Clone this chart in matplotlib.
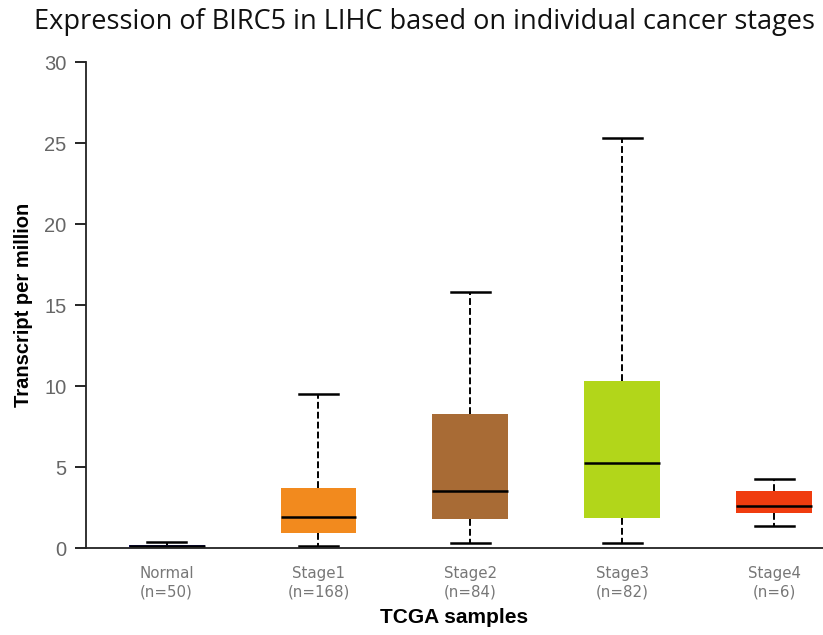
import matplotlib
matplotlib.use('Agg')
import matplotlib.pyplot as plt

# datos (TPM)
groups = ['Normal', 'Stage1', 'Stage2', 'Stage3', 'Stage4']
counts = [50, 168, 84, 82, 6]
whislo = [0.0, 0.1, 0.3, 0.3, 1.35]
q1 = [0.05, 0.95, 1.8, 1.85, 2.15]
med = [0.1, 1.9, 3.5, 5.25, 2.6]
q3 = [0.2, 3.7, 8.27, 10.3, 3.55]
whishi = [0.35, 9.5, 15.8, 25.3, 4.25]
colors = ['#1c1c8c', '#f28a1e', '#a86b35', '#b2d61a', '#f03c0f']

stats = []
for i, g in enumerate(groups):
    stats.append(dict(label=g, whislo=whislo[i], q1=q1[i], med=med[i],
                      q3=q3[i], whishi=whishi[i], fliers=[]))

fig = plt.figure(figsize=(8.23, 6.35), dpi=100)
ax = fig.add_axes([0.1045, 0.137, 0.8955, 0.765])

bp = ax.bxp(stats, positions=range(len(groups)), widths=0.5, patch_artist=True,
            showfliers=False,
            whiskerprops=dict(color='black', linestyle=(0, (3.5, 1.6)), linewidth=1.4),
            capprops=dict(color='black', linewidth=1.8),
            medianprops=dict(color='black', linewidth=1.8),
            boxprops=dict(linewidth=0))
for patch, c in zip(bp['boxes'], colors):
    patch.set_facecolor(c)
    patch.set_edgecolor(c)

for cap in bp['caps']:
    x = cap.get_xdata()
    m = (x[0] + x[1]) / 2
    cap.set_xdata([m - 0.13, m + 0.13])

ax.set_xlim(-0.53, 4.32)
ax.set_ylim(0, 30)
ax.set_yticks([0, 5, 10, 15, 20, 25, 30])
ax.set_xticks(range(len(groups)))
ax.set_xticklabels([f'{g}\n(n={n})' for g, n in zip(groups, counts)],
                   fontsize=10.8, color='#777777', linespacing=1.3)
ax.tick_params(axis='x', length=0, pad=13)
ax.tick_params(axis='y', length=8, width=1.2, labelsize=14.5, labelcolor='#666666', pad=6)
for lab in ax.get_yticklabels():
    lab.set_family('Liberation Sans')

for s in ['top', 'right']:
    ax.spines[s].set_visible(False)
ax.spines['left'].set_linewidth(1.3)
ax.spines['bottom'].set_linewidth(1.3)
ax.spines['left'].set_color('#222222')
ax.spines['bottom'].set_color('#222222')

ax.set_ylabel('Transcript per million', fontsize=14.5, fontweight='bold',
              family='Liberation Sans', labelpad=8)
ax.set_xlabel('TCGA samples', fontsize=15, fontweight='bold',
              family='Liberation Sans', labelpad=6)

fig.text(0.516, 0.966, 'Expression of BIRC5 in LIHC based on individual cancer stages',
         ha='center', va='center', fontsize=19.5, family='Open Sans', color='#111111')

fig.savefig('out.png', dpi=100)
plt.close(fig)
